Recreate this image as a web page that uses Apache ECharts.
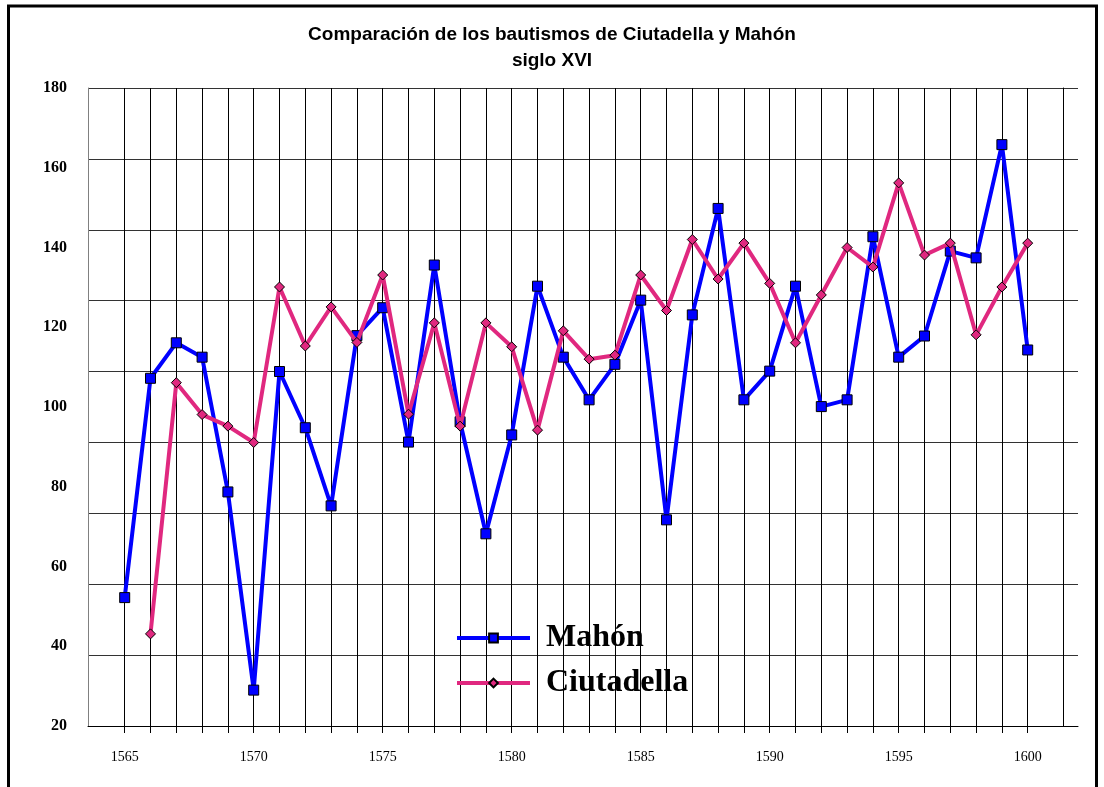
<!DOCTYPE html>
<html>
<head>
<meta charset="utf-8">
<script src="https://cdn.jsdelivr.net/npm/echarts@6/dist/echarts.min.js"></script>
<style>
  html, body { margin: 0; padding: 0; background: #fff; }
  #chart { width: 1104px; height: 787px; }
</style>
</head>
<body>
<div id="chart"></div>
<script>
// años (eje x)
var years = ["1565", "1566", "1567", "1568", "1569", "1570", "1571", "1572", "1573", "1574",
  "1575", "1576", "1577", "1578", "1579", "1580", "1581", "1582", "1583", "1584",
  "1585", "1586", "1587", "1588", "1589", "1590", "1591", "1592", "1593", "1594",
  "1595", "1596", "1597", "1598", "1599", "1600"];

// bautismos Mahón
var mahon = [52.2, 107.2, 116.1, 112.5, 78.7, 29.0, 108.9, 94.8, 75.2, 117.9,
  124.9, 91.2, 135.6, 96.3, 68.2, 93.0, 130.3, 112.5, 101.8, 110.7,
  126.8, 71.7, 123.1, 149.8, 101.8, 109.0, 130.3, 100.1, 101.8, 142.7,
  112.5, 117.8, 139.1, 137.4, 165.8, 114.3];

// bautismos Ciutadella (sin dato en 1565)
var ciutadella = [null, 43.1, 106.1, 98.1, 95.2, 91.1, 130.1, 115.3, 125.1, 116.2,
  133.1, 98.2, 121.1, 95.2, 121.1, 115.1, 94.2, 119.1, 112.0, 113.0,
  133.1, 124.2, 142.0, 132.1, 141.1, 131.0, 116.1, 128.1, 140.0, 135.1,
  156.2, 138.1, 141.1, 118.1, 130.1, 141.1];

// etiquetas del eje y
var yMin = 20, yMax = 180, yStep = 20;
// lineas horizontales de la cuadricula (0..180)
var gridMin = 0, gridMax = 180, gridStep = 20;

var chart = echarts.init(document.getElementById("chart"));

chart.setOption({
  animation: false,
  backgroundColor: "#fff",
  title: {
    text: "Comparación de los bautismos de Ciutadella y Mahón\nsiglo XVI",
    left: "center",
    top: 17,
    textStyle: {
      fontFamily: "Liberation Sans, Arial, sans-serif",
      fontSize: 19,
      fontWeight: "bold",
      color: "#000",
      lineHeight: 26,
      align: "center"
    }
  },
  graphic: [
    {
      type: "rect",
      shape: { x: 8.5, y: 6, width: 1088, height: 800 },
      style: { fill: "none", stroke: "#000", lineWidth: 3 },
      silent: true,
      z: 100
    }
  ],
  legend: {
    orient: "vertical",
    left: 450,
    top: 617,
    itemWidth: 73,
    itemHeight: 11,
    itemGap: 13,
    data: ["Mahón", "Ciutadella"],
    lineStyle: { width: 4 },
    textStyle: {
      fontFamily: "Liberation Serif, Times New Roman, serif",
      fontSize: 32,
      fontWeight: "bold",
      color: "#000",
      lineHeight: 32,
      padding: [0, 0, 0, 11]
    }
  },
  grid: [
    // marco: lineas horizontales
    { left: 88, top: 88, width: 990, height: 638, containLabel: false },
    // datos
    { left: 124.7, top: 88, width: 903, height: 638, containLabel: false }
  ],
  xAxis: [
    {
      gridIndex: 0,
      type: "value",
      min: 0,
      max: 1,
      axisLine: { show: true, lineStyle: { color: "#000", width: 1 } },
      axisTick: { show: false },
      axisLabel: { show: false },
      splitLine: { show: false }
    },
    {
      gridIndex: 1,
      type: "category",
      data: years,
      boundaryGap: false,
      axisLine: { show: false },
      axisTick: { show: true, interval: 0, length: 7, lineStyle: { color: "#000" } },
      axisLabel: {
        interval: 4,
        margin: 24,
        fontFamily: "Liberation Serif, Times New Roman, serif",
        fontSize: 14,
        color: "#000"
      },
      splitLine: { show: true, interval: 0, lineStyle: { color: "#000", width: 1 } }
    }
  ],
  yAxis: [
    {
      gridIndex: 0,
      type: "value",
      min: gridMin,
      max: gridMax,
      interval: gridStep,
      axisLine: { show: false },
      axisTick: { show: false },
      axisLabel: { show: false },
      splitLine: { show: true, lineStyle: { color: "#333", width: 1 } }
    },
    {
      gridIndex: 1,
      type: "value",
      position: "left",
      offset: 36.7,
      min: yMin,
      max: yMax,
      interval: yStep,
      axisLine: { show: true, lineStyle: { color: "#808080", width: 1 } },
      axisTick: { show: false },
      axisLabel: {
        margin: 21,
        fontFamily: "Liberation Serif, Times New Roman, serif",
        fontSize: 16,
        fontWeight: "bold",
        color: "#000"
      },
      splitLine: { show: false }
    },
    {
      gridIndex: 1,
      type: "value",
      position: "right",
      offset: 35.3,
      min: yMin,
      max: yMax,
      interval: yStep,
      axisLine: { show: true, lineStyle: { color: "#000", width: 1 } },
      axisTick: { show: false },
      axisLabel: { show: false },
      splitLine: { show: false }
    }
  ],
  series: [
    {
      name: "Mahón",
      type: "line",
      xAxisIndex: 1,
      yAxisIndex: 1,
      data: mahon,
      symbol: "rect",
      symbolSize: 10,
      showAllSymbol: true,
      lineStyle: { color: "#0000FF", width: 4 },
      itemStyle: { color: "#0000FF", borderColor: "#000", borderWidth: 1 },
      z: 3
    },
    {
      name: "Ciutadella",
      type: "line",
      xAxisIndex: 1,
      yAxisIndex: 1,
      data: ciutadella,
      symbol: "diamond",
      symbolSize: 10,
      showAllSymbol: true,
      lineStyle: { color: "#E0287F", width: 4 },
      itemStyle: { color: "#E0287F", borderColor: "#000", borderWidth: 1 },
      z: 4
    }
  ]
});
</script>
</body>
</html>
